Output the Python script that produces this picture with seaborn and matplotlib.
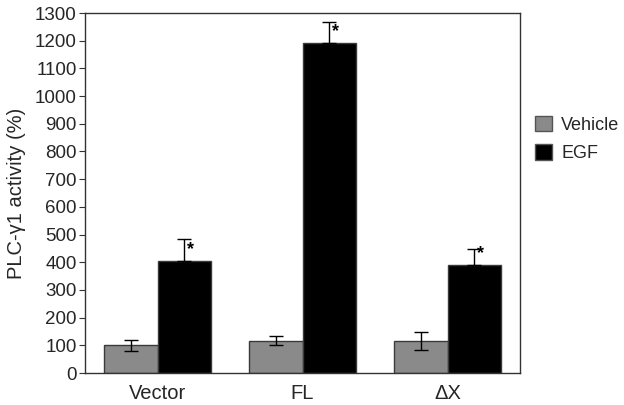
import matplotlib
matplotlib.use("Agg")
import matplotlib.pyplot as plt
import seaborn as sns
import pandas as pd
import numpy as np

categories = ["Vector", "FL", "ΔX"]
treatments = ["Vehicle", "EGF"]
vehicle_vals = [100, 117, 115]
vehicle_err = [20, 16, 33]
egf_vals = [404, 1192, 391]
egf_err = [80, 75, 57]
yticks = list(range(0, 1301, 100))

sns.set_theme(style="white")
plt.rcParams['font.family'] = ['Liberation Sans', 'DejaVu Sans']

df = pd.DataFrame({
    "cat": categories * 2,
    "treat": ["Vehicle"] * 3 + ["EGF"] * 3,
    "val": vehicle_vals + egf_vals,
})

fig = plt.figure(figsize=(6.24, 4.05), dpi=100)
ax = fig.add_axes([85/624, 32/405, 435/624, 360/405])

sns.barplot(data=df, x="cat", y="val", hue="treat", order=categories,
            hue_order=treatments, palette={"Vehicle": "#8a8a8a", "EGF": "#000000"},
            width=0.74, gap=0, errorbar=None, ax=ax, edgecolor="#3a3a3a", linewidth=1.0,
            saturation=1)

patches = [p for p in ax.patches if p.get_height() > 0]
veh_patches = patches[:3]
egf_patches = patches[3:6]

vx = [p.get_x() + p.get_width()/2 for p in veh_patches]
ex = [p.get_x() + p.get_width()/2 for p in egf_patches]

ax.errorbar(vx, vehicle_vals, yerr=vehicle_err, fmt="none", ecolor="black",
            elinewidth=1.0, capsize=5, capthick=1.0)
ax.errorbar(ex, egf_vals, yerr=[[0]*3, egf_err], fmt="none", ecolor="black",
            elinewidth=1.0, capsize=5, capthick=1.0)

for x, v, e in zip(ex, egf_vals, egf_err):
    ax.text(x + 0.045, v + 10, "*", ha="center", va="bottom", fontsize=13,
            fontweight="bold", color="black")

ax.set_ylim(0, 1300)
ax.set_xlim(-0.5, 2.5)
ax.set_yticks(yticks)
ax.set_yticklabels([str(t) for t in yticks], fontsize=13.5)
ax.set_ylabel("PLC-γ1 activity (%)", fontsize=14.5, labelpad=6)
ax.set_xlabel("")
ax.set_xticks(range(3))
ax.set_xticklabels(categories, fontsize=14.5)
ax.tick_params(axis="x", length=0, pad=8)
ax.set_xticks([0.5, 1.5], minor=True)
ax.tick_params(axis="x", which="minor", length=4, width=0.8, direction="out", color="#333333")
ax.tick_params(axis="y", length=4, width=0.8, direction="out", color="#333333", pad=2, left=True)

for s in ax.spines.values():
    s.set_color("#333333")
    s.set_linewidth(1.0)
    s.set_visible(True)

leg = ax.legend(loc="upper left", bbox_to_anchor=(1.018, 0.735), frameon=False,
                fontsize=13, handlelength=0.95, handleheight=0.95, handletextpad=0.5,
                labelspacing=0.6, borderaxespad=0)
for h in leg.legend_handles:
    h.set_edgecolor("#555555")

fig.savefig("out.png", dpi=100)
